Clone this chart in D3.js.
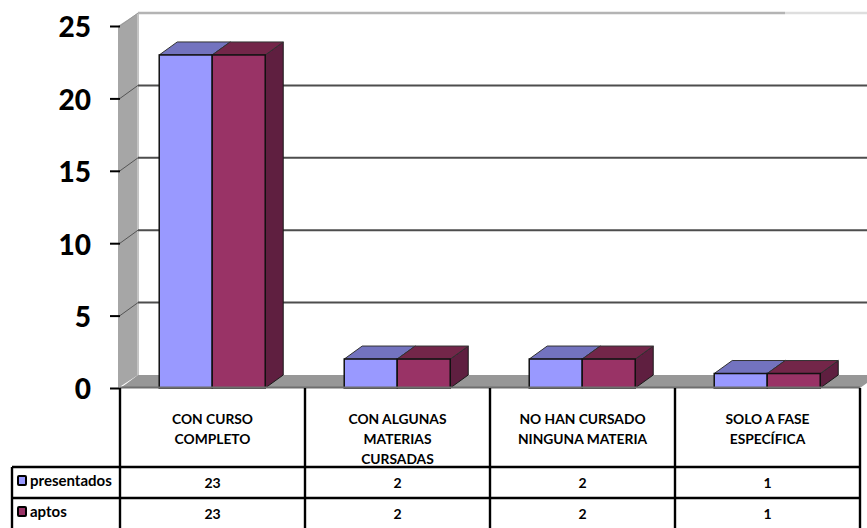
<!DOCTYPE html>
<html>
<head>
<meta charset="utf-8">
<script src="https://cdn.jsdelivr.net/npm/d3@7"></script>
<style>
  html, body { margin: 0; padding: 0; background: #fff; }
  svg { display: block; }
  text { font-family: Lato, "Open Sans", sans-serif; fill: #000; }
</style>
</head>
<body>
<div id="chart"></div>
<script>
// chart values
var categories = [
  ["CON CURSO", "COMPLETO"],
  ["CON ALGUNAS", "MATERIAS", "CURSADAS"],
  ["NO HAN CURSADO", "NINGUNA MATERIA"],
  ["SOLO A FASE", "ESPECÍFICA"]
];
var presentados = [23, 2, 2, 1];
var aptos = [23, 2, 2, 1];
var yTicks = [0, 5, 10, 15, 20, 25];

// svg container dimensions
var width = 867;
var height = 528;

// plot frame
var x0 = 120, x1 = 860;
var y0 = 388, y25 = 26;
var depthX = 18, depthY = 13;
var tableLeft = 12;
var rowLines = [467, 498];

var svg = d3.select("#chart")
  .append("svg")
  .attr("width", width)
  .attr("height", height);

var yScale = d3.scaleLinear().domain([0, 25]).range([y0, y25]);

var xScale = d3.scaleBand()
  .domain(d3.range(categories.length))
  .range([x0, x1]);

// two bars side by side in each category
var barScale = d3.scaleBand()
  .domain(["presentados", "aptos"])
  .range([xScale.bandwidth() * 0.212, xScale.bandwidth() * 0.785]);

function poly(points, fill, stroke) {
  return svg.append("polygon")
    .attr("points", points.map(p => p.join(",")).join(" "))
    .attr("fill", fill)
    .attr("stroke", stroke || "none");
}

// side wall and floor
poly([[x0 - 2, y25], [x0 + depthX, y25 - depthY], [x0 + depthX, y0 - depthY], [x0 - 2, y0]], "#a6a6a6");
poly([[x0 + 6, y0 - 4], [x0 + depthX, y0 - depthY], [width, y0 - depthY], [width, y0 - 5], [x1, y0], [x0, y0]], "#979797");
svg.append("line")
  .attr("x1", x0 + depthX).attr("x2", x0 + depthX)
  .attr("y1", y25 - depthY).attr("y2", y0 - depthY)
  .attr("stroke", "#c4c4c4").attr("stroke-width", 2);

// gridlines on the back wall with their step down the side wall
yTicks.slice(1).forEach(function(t) {
  var y = yScale(t);
  var top = t === 25;
  if (top) {
    svg.append("line")
      .attr("x1", x0 + depthX).attr("x2", 785)
      .attr("y1", y - depthY).attr("y2", y - depthY)
      .attr("stroke", "#b4b4b4")
      .attr("stroke-width", 2.4);
    svg.append("line")
      .attr("x1", 785).attr("x2", width)
      .attr("y1", y - depthY).attr("y2", y - depthY)
      .attr("stroke", "#dedede")
      .attr("stroke-width", 2.4);
  } else {
    svg.append("line")
      .attr("x1", x0 + depthX).attr("x2", width)
      .attr("y1", y - depthY).attr("y2", y - depthY)
      .attr("stroke", "#4d4d4d")
      .attr("stroke-width", 2);
  }
  svg.append("line")
    .attr("x1", x0).attr("x2", x0 + depthX)
    .attr("y1", y).attr("y2", y - depthY)
    .attr("stroke", top ? "#999" : "#555")
    .attr("stroke-width", 1);
});

// y axis with ticks
var yAxis = d3.axisLeft(yScale).tickValues(yTicks).tickSize(10).tickPadding(19).tickFormat(d3.format("d"));
var yAxisG = svg.append("g")
  .attr("transform", `translate(${x0},0)`)
  .call(yAxis);
yAxisG.select(".domain").attr("stroke", "none");
yAxisG.selectAll(".tick line").attr("stroke", "#000").attr("stroke-width", 2);
yAxisG.selectAll(".tick text")
  .attr("y", 2)
  .attr("font-size", 28)
  .attr("font-weight", 900)
  .attr("font-family", "Lato, sans-serif");

// 3d bars
function drawBar(cat, key, value, front, top, side) {
  var x = xScale(cat) + barScale(key);
  var w = barScale.bandwidth();
  var y = yScale(value);
  poly([[x + w, y], [x + w + depthX, y - depthY], [x + w + depthX, y0 - depthY], [x + w, y0]], side, "#1a1a1a");
  poly([[x, y], [x + depthX, y - depthY], [x + w + depthX, y - depthY], [x + w, y]], top, "#333");
  svg.append("rect")
    .attr("x", x).attr("y", y)
    .attr("width", w).attr("height", y0 - y)
    .attr("fill", front)
    .attr("stroke", "#111")
    .attr("stroke-width", 1.5);
}

presentados.forEach(function(v, i) {
  drawBar(i, "presentados", v, "#9999ff", "#7373bf", "#7373bf");
  drawBar(i, "aptos", aptos[i], "#993366", "#732649", "#5f1f40");
});

// floor front edge
svg.append("line")
  .attr("x1", x0).attr("x2", x1)
  .attr("y1", y0 - 0.5).attr("y2", y0 - 0.5)
  .attr("stroke", "#6e6e6e")
  .attr("stroke-width", 2);

// data table
var tableLines = svg.append("g").attr("stroke", "#000").attr("stroke-width", 2.4);
xScale.domain().concat(categories.length).forEach(function(i) {
  var x = i < categories.length ? xScale(i) : x1;
  tableLines.append("line")
    .attr("x1", x).attr("x2", x)
    .attr("y1", y0).attr("y2", height);
});
rowLines.forEach(function(y) {
  tableLines.append("line")
    .attr("x1", tableLeft).attr("x2", x1)
    .attr("y1", y).attr("y2", y);
});
tableLines.append("line")
  .attr("x1", tableLeft).attr("x2", tableLeft)
  .attr("y1", rowLines[0]).attr("y2", height);

// category labels
categories.forEach(function(lines, i) {
  var cx = xScale(i) + xScale.bandwidth() / 2;
  lines.forEach(function(line, j) {
    svg.append("text")
      .attr("x", cx)
      .attr("y", 423.5 + j * 20)
      .attr("text-anchor", "middle")
      .attr("font-size", 13.8)
      .attr("font-weight", "bold")
      .text(line);
  });
});

// table rows with legend keys
var rows = [
  { name: "presentados", values: presentados, color: "#9999ff", y: 486 },
  { name: "aptos", values: aptos, color: "#993366", y: 517 }
];
rows.forEach(function(row) {
  svg.append("rect")
    .attr("x", 18).attr("y", row.y - 10)
    .attr("width", 8).attr("height", 9)
    .attr("rx", 1)
    .attr("fill", row.color)
    .attr("stroke", "#000")
    .attr("stroke-width", 2);
  svg.append("text")
    .attr("x", 30).attr("y", row.y)
    .attr("font-size", 15)
    .attr("font-weight", "bold")
    .text(row.name);
  row.values.forEach(function(v, i) {
    svg.append("text")
      .attr("x", xScale(i) + xScale.bandwidth() / 2)
      .attr("y", row.y + 2)
      .attr("text-anchor", "middle")
      .attr("font-size", 14)
      .attr("font-weight", "bold")
      .text(v);
  });
});
</script>
</body>
</html>
